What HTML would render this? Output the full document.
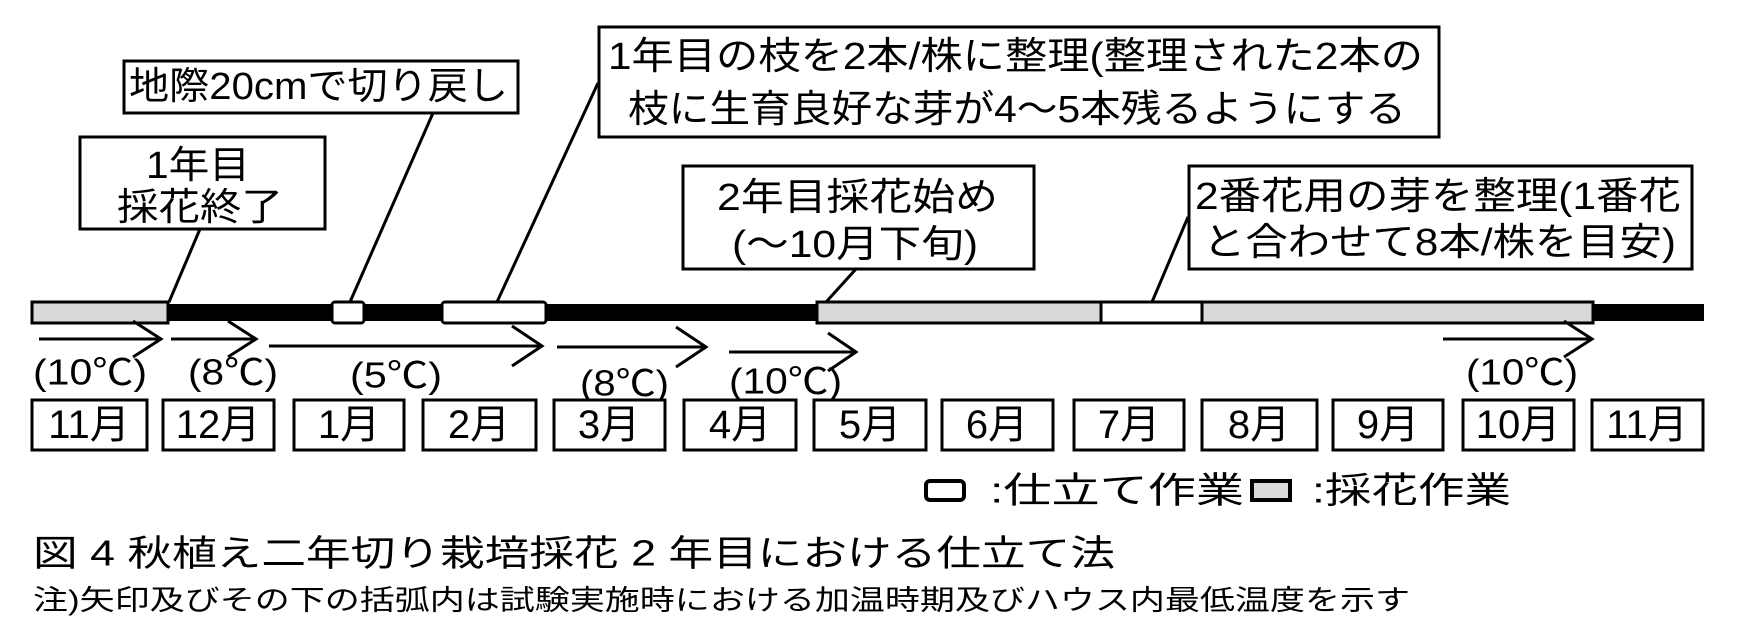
<!DOCTYPE html>
<html><head><meta charset="utf-8"><style>
html,body{margin:0;padding:0;background:#fff;}
svg{display:block;}
text{font-family:"Liberation Sans","Noto Sans CJK JP",sans-serif;fill:#000;}
</style></head><body>
<svg width="1740" height="634" viewBox="0 0 1740 634" xmlns="http://www.w3.org/2000/svg">
<g fill="#fff" stroke="#000" stroke-width="3">
<rect x="80" y="137" width="245" height="92"/>
<rect x="124" y="61" width="394" height="52"/>
<rect x="599" y="27" width="840" height="110"/>
<rect x="683" y="166" width="351" height="103"/>
<rect x="1189" y="166" width="503" height="103"/>
</g>
<g font-size="38" dominant-baseline="central">
<text x="146" y="166" textLength="104" lengthAdjust="spacingAndGlyphs">1年目</text>
<text x="117" y="208" textLength="166" lengthAdjust="spacingAndGlyphs">採花終了</text>
<text x="129" y="87" textLength="379" lengthAdjust="spacingAndGlyphs">地際20cmで切り戻し</text>
<text x="608" y="57" textLength="815" lengthAdjust="spacingAndGlyphs">1年目の枝を2本/株に整理(整理された2本の</text>
<text x="628" y="110" textLength="778" lengthAdjust="spacingAndGlyphs">枝に生育良好な芽が4～5本残るようにする</text>
<text x="717" y="198" textLength="281" lengthAdjust="spacingAndGlyphs">2年目採花始め</text>
<text x="732" y="245" textLength="246" lengthAdjust="spacingAndGlyphs">(～10月下旬)</text>
<text x="1195" y="197" textLength="486" lengthAdjust="spacingAndGlyphs">2番花用の芽を整理(1番花</text>
<text x="1203" y="243" textLength="473" lengthAdjust="spacingAndGlyphs">と合わせて8本/株を目安)</text>
</g>
<g stroke="#000" stroke-width="3">
<line x1="200" y1="229" x2="169" y2="302"/>
<line x1="433" y1="113" x2="350" y2="302"/>
<line x1="598" y1="83" x2="497" y2="302"/>
<line x1="856" y1="269" x2="817" y2="312"/>
<line x1="1188" y1="217" x2="1152" y2="302"/>
</g>
<rect x="168" y="304" width="1536" height="17" fill="#000"/>
<g stroke="#000" stroke-width="3">
<rect x="32" y="302" width="136" height="21" fill="#d9d9d9"/>
<rect x="332" y="302" width="32" height="21" rx="3" fill="#fff"/>
<rect x="442" y="302" width="104" height="21" rx="3" fill="#fff"/>
<rect x="817" y="302" width="776" height="21" fill="#d9d9d9"/>
<rect x="1101" y="302" width="101" height="21" fill="#fff"/>
</g>
<g stroke="#000" stroke-width="3" fill="none">
<path d="M39 339H161M133 321L161 339L133 357"/>
<path d="M171 339H256M228 321L256 339L228 357"/>
<path d="M269 346H542M512 326L542 346L512 366"/>
<path d="M557 347H706M676 327L706 347L676 367"/>
<path d="M729 352H856M828 333L856 352L828 371"/>
<path d="M1443 339H1592M1564 321L1592 339L1564 357"/>
</g>
<g font-size="36" dominant-baseline="central">
<text x="33" y="372" textLength="114" lengthAdjust="spacingAndGlyphs">(10℃)</text>
<text x="188" y="372" textLength="90" lengthAdjust="spacingAndGlyphs">(8℃)</text>
<text x="350" y="375" textLength="92" lengthAdjust="spacingAndGlyphs">(5℃)</text>
<text x="580" y="383" textLength="89" lengthAdjust="spacingAndGlyphs">(8℃)</text>
<text x="729" y="381" textLength="113" lengthAdjust="spacingAndGlyphs">(10℃)</text>
<text x="1466" y="372" textLength="112" lengthAdjust="spacingAndGlyphs">(10℃)</text>
</g>
<g fill="#fff" stroke="#000" stroke-width="3">
<rect x="32" y="400" width="115" height="50"/>
<rect x="163" y="400" width="111" height="50"/>
<rect x="294" y="400" width="110" height="50"/>
<rect x="423" y="400" width="113" height="50"/>
<rect x="554" y="400" width="111" height="50"/>
<rect x="684" y="400" width="112" height="50"/>
<rect x="814" y="400" width="112" height="50"/>
<rect x="942" y="400" width="111" height="50"/>
<rect x="1074" y="400" width="110" height="50"/>
<rect x="1202" y="400" width="115" height="50"/>
<rect x="1333" y="400" width="110" height="50"/>
<rect x="1463" y="400" width="111" height="50"/>
<rect x="1592" y="400" width="111" height="50"/>
</g>
<g font-size="40" dominant-baseline="central" text-anchor="middle">
<text x="89" y="425">11月</text>
<text x="218" y="425">12月</text>
<text x="349" y="425">1月</text>
<text x="479" y="425">2月</text>
<text x="609" y="425">3月</text>
<text x="740" y="425">4月</text>
<text x="870" y="425">5月</text>
<text x="997" y="425">6月</text>
<text x="1129" y="425">7月</text>
<text x="1259" y="425">8月</text>
<text x="1388" y="425">9月</text>
<text x="1518" y="425">10月</text>
<text x="1647" y="425">11月</text>
</g>
<rect x="926" y="481" width="38" height="19" rx="4" fill="#fff" stroke="#000" stroke-width="4"/>
<text x="990" y="490" font-size="36" dominant-baseline="central" textLength="254" lengthAdjust="spacingAndGlyphs">:仕立て作業</text>
<rect x="1252" y="481" width="38" height="19" fill="#d9d9d9" stroke="#000" stroke-width="4"/>
<text x="1312" y="490" font-size="36" dominant-baseline="central" textLength="199" lengthAdjust="spacingAndGlyphs">:採花作業</text>
<text x="33" y="553" font-size="36" dominant-baseline="central" textLength="1082" lengthAdjust="spacingAndGlyphs">図 4  秋植え二年切り栽培採花 2 年目における仕立て法</text>
<text x="33" y="600" font-size="28" dominant-baseline="central" textLength="1377" lengthAdjust="spacingAndGlyphs">注)矢印及びその下の括弧内は試験実施時における加温時期及びハウス内最低温度を示す</text>
</svg>
</body></html>
